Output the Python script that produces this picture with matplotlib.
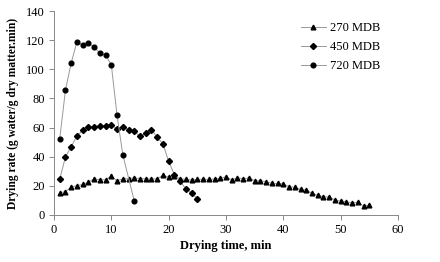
import matplotlib
matplotlib.use('Agg')
import matplotlib.pyplot as plt

# drying time (min) and drying rate (g water/g dry matter.min)
t_270 = list(range(1, 56))
rate_270 = [15.3, 16.0, 19.2, 20.1, 21.0, 22.4, 24.9, 24.2, 24.2, 26.8,
            23.3, 24.9, 24.9, 25.6, 24.9, 24.9, 24.7, 24.9, 27.2, 26.1,
            26.5, 24.9, 24.5, 24.0, 24.5, 24.5, 24.5, 24.7, 25.2, 26.3,
            24.0, 25.6, 24.7, 25.6, 23.5, 23.5, 22.9, 21.7, 21.7, 21.3,
            19.4, 19.0, 17.6, 17.2, 14.8, 13.7, 12.4, 12.4, 10.3, 9.6,
            9.1, 8.2, 8.9, 6.0, 6.9]

t_450 = list(range(1, 26))
rate_450 = [24.7, 39.8, 46.9, 54.2, 58.1, 60.4, 60.4, 61.3, 61.3, 62.0,
            59.0, 60.4, 58.6, 57.4, 54.0, 56.0, 58.6, 53.3, 48.9, 36.8,
            27.7, 23.3, 17.8, 15.3, 11.0]

t_720 = [1, 2, 3, 4, 5, 6, 7, 8, 9, 10, 11, 12, 14]
rate_720 = [52.2, 85.8, 104.3, 118.9, 116.5, 118.0, 115.3, 111.0, 109.8,
            103.0, 68.4, 41.4, 9.6]

plt.rcParams['font.family'] = ['Liberation Serif', 'DejaVu Serif']

fig = plt.figure(figsize=(4.4, 2.62), dpi=100)
ax = fig.add_axes([0.1227, 0.1794, 0.7818, 0.7786])

line_kw = dict(color='#999999', linewidth=0.7, markerfacecolor='black',
               markeredgecolor='black')
ax.plot(t_270, rate_270, marker='^', markersize=3.4, label='270 MDB', **line_kw)
ax.plot(t_450, rate_450, marker='D', markersize=3.1, label='450 MDB', **line_kw)
ax.plot(t_720, rate_720, marker='o', markersize=3.4, label='720 MDB', **line_kw)

ax.set_xlim(0, 60)
ax.set_ylim(0, 140)
ax.set_xticks(range(0, 61, 10))
ax.set_yticks(range(0, 141, 20))
ax.tick_params(labelsize=9, length=3.5, width=0.7, color='#888888', pad=3)
for s in ['top', 'right']:
    ax.spines[s].set_visible(False)
for s in ['left', 'bottom']:
    ax.spines[s].set_color('#888888')
    ax.spines[s].set_linewidth(0.7)

ax.set_xlabel('Drying time, min', fontsize=9, fontweight='bold', labelpad=3)
ax.set_ylabel('Drying rate (g water/g dry matter.min)', fontsize=8.3,
              fontweight='bold', labelpad=5)

ax.legend(loc='upper right', bbox_to_anchor=(0.98, 1.0), frameon=False,
          fontsize=9, handlelength=2.0, handletextpad=0.3, labelspacing=0.55)

fig.savefig('out.png', dpi=100)
